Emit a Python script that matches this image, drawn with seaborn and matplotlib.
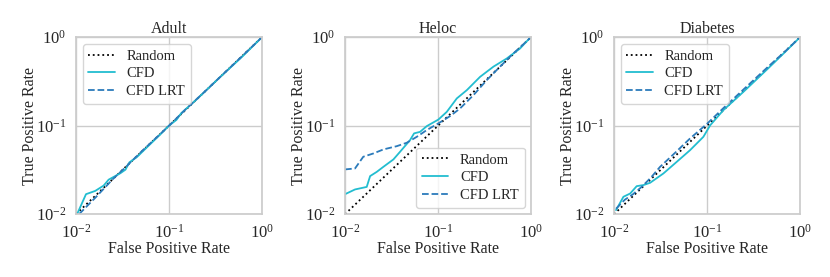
import numpy as np
import pandas as pd
import matplotlib
matplotlib.use("Agg")
import matplotlib.pyplot as plt
import seaborn as sns

# Random baseline
random_fpr = [0.01, 1.0]
random_tpr = [0.01, 1.0]

# Adult
adult_cfd_fpr = [0.0104, 0.0128, 0.0161, 0.0198, 0.0224, 0.030, 0.034, 0.0375, 0.045, 0.06, 0.08, 0.1, 0.12, 0.135, 0.2, 0.35, 0.6, 1.0]
adult_cfd_tpr = [0.0103, 0.0168, 0.0183, 0.0210, 0.0245, 0.0290, 0.0318, 0.0385, 0.0440, 0.059, 0.079, 0.1, 0.116, 0.138, 0.2, 0.35, 0.59, 1.0]
adult_lrt_fpr = [0.0108, 0.013, 0.016, 0.02, 0.025, 0.035, 0.05, 0.08, 0.1, 0.15, 0.25, 0.45, 0.7, 1.0]
adult_lrt_tpr = [0.0100, 0.0122, 0.0152, 0.0195, 0.0250, 0.0348, 0.0505, 0.080, 0.1, 0.152, 0.25, 0.45, 0.70, 1.0]

# Heloc
heloc_cfd_fpr = [0.01, 0.0128, 0.0171, 0.0186, 0.0219, 0.0258, 0.0331, 0.039, 0.050, 0.0552, 0.064, 0.0755, 0.1007, 0.124, 0.159, 0.204, 0.283, 0.394, 0.548, 0.762, 0.90, 1.0]
heloc_cfd_tpr = [0.0168, 0.019, 0.0203, 0.0269, 0.030, 0.0342, 0.0415, 0.0506, 0.0686, 0.0817, 0.085, 0.0986, 0.117, 0.143, 0.203, 0.252, 0.356, 0.464, 0.574, 0.745, 0.90, 1.0]
heloc_lrt_fpr = [0.01, 0.0128, 0.0157, 0.0202, 0.0258, 0.036, 0.046, 0.059, 0.0755, 0.1007, 0.1345, 0.172, 0.24, 0.334, 0.464, 0.646, 1.0]
heloc_lrt_tpr = [0.032, 0.0328, 0.0445, 0.0485, 0.0538, 0.0586, 0.064, 0.0747, 0.089, 0.106, 0.128, 0.156, 0.221, 0.327, 0.464, 0.655, 1.0]

# Diabetes
diab_cfd_fpr = [0.0105, 0.0126, 0.0149, 0.0175, 0.0207, 0.0244, 0.0339, 0.0472, 0.0656, 0.0912, 0.108, 0.15, 0.25, 0.45, 0.7, 1.0]
diab_cfd_tpr = [0.0111, 0.0157, 0.0171, 0.0207, 0.0213, 0.0226, 0.0288, 0.039, 0.0528, 0.0747, 0.101, 0.150, 0.245, 0.44, 0.69, 1.0]
diab_lrt_fpr = [0.0105, 0.013, 0.016, 0.02, 0.025, 0.0312, 0.045, 0.065, 0.1, 0.15, 0.25, 0.45, 0.7, 1.0]
diab_lrt_tpr = [0.0115, 0.0145, 0.0168, 0.0205, 0.026, 0.0342, 0.049, 0.071, 0.105, 0.158, 0.26, 0.46, 0.70, 1.0]

datasets = [
    ("Adult", adult_cfd_fpr, adult_cfd_tpr, adult_lrt_fpr, adult_lrt_tpr, "upper left"),
    ("Heloc", heloc_cfd_fpr, heloc_cfd_tpr, heloc_lrt_fpr, heloc_lrt_tpr, "lower right"),
    ("Diabetes", diab_cfd_fpr, diab_cfd_tpr, diab_lrt_fpr, diab_lrt_tpr, "upper left"),
]

sns.set_theme(style="whitegrid")
plt.rcParams["font.family"] = ["Liberation Serif", "DejaVu Serif"]
plt.rcParams["mathtext.fontset"] = "stix"

cfd_color = "#22bdd0"
lrt_color = "#2b7bbb"

fig, axes = plt.subplots(1, 3, figsize=(8.3, 2.77), dpi=100)
fig.subplots_adjust(left=0.0916, right=0.964, bottom=0.227, top=0.866, wspace=0.446)

for ax, (name, cfx, cfy, lrx, lry, loc) in zip(axes, datasets):
    sns.lineplot(x=random_fpr, y=random_tpr, ax=ax, color="black", linestyle=":", linewidth=1.3, label="Random")
    sns.lineplot(x=cfx, y=cfy, ax=ax, color=cfd_color, linestyle="-", linewidth=1.3, label="CFD")
    sns.lineplot(x=lrx, y=lry, ax=ax, color=lrt_color, linestyle="--", linewidth=1.3, label="CFD LRT")
    ax.set_xscale("log")
    ax.set_yscale("log")
    ax.set_xlim(0.01, 1)
    ax.set_ylim(0.01, 1)
    ax.set_xticks([0.01, 0.1, 1])
    ax.set_yticks([0.01, 0.1, 1])
    ax.tick_params(axis="both", which="major", labelsize=12, length=0, pad=7)
    ax.tick_params(axis="both", which="minor", length=0)
    ax.set_title(name, fontsize=11.5, pad=3)
    ax.set_xlabel("False Positive Rate", fontsize=11.5)
    ax.set_ylabel("True Positive Rate", fontsize=11.5)
    ax.yaxis.set_label_coords(-0.205, 0.5)
    ax.xaxis.set_label_coords(0.5, -0.15)
    ax.legend(loc=loc, fontsize=10.5, handlelength=1.8, handletextpad=0.8,
              borderaxespad=0.45, labelspacing=0.3)

plt.savefig("out.png", dpi=100)
plt.close()
